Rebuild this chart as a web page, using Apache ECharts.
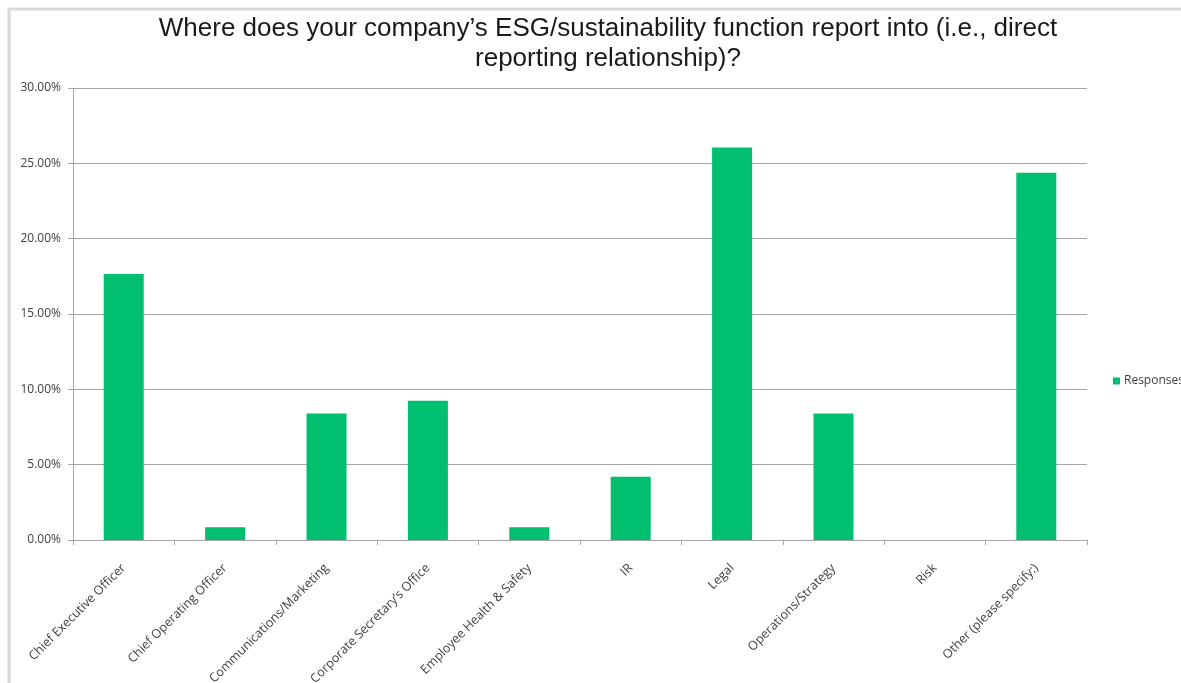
<!DOCTYPE html>
<html>
<head>
<meta charset="utf-8">
<script src="https://cdn.jsdelivr.net/npm/echarts@6/dist/echarts.min.js"></script>
<style>
  html, body { margin: 0; padding: 0; background: #ffffff; }
  #chart { width: 1181px; height: 683px; }
</style>
</head>
<body>
<div id="chart"></div>
<script>
// Survey: reporting line of the ESG/sustainability function (share of responses)
const categories = [
  'Chief Executive Officer',
  'Chief Operating Officer',
  'Communications/Marketing',
  'Corporate Secretary\u2019s Office',
  'Employee Health & Safety',
  'IR',
  'Legal',
  'Operations/Strategy',
  'Risk',
  'Other (please specify:)'
];
const responses = [17.65, 0.84, 8.40, 9.24, 0.84, 4.20, 26.05, 8.40, 0, 24.37];
const seriesName = 'Responses';
const titleText = 'Where does your company\u2019s ESG/sustainability function report into (i.e., direct\nreporting relationship)?';

const chart = echarts.init(document.getElementById('chart'));
chart.setOption({
  animation: false,
  backgroundColor: '#ffffff',
  title: {
    text: titleText,
    left: 603,
    textAlign: 'center',
    top: 9,
    textStyle: {
      fontFamily: 'Liberation Sans, Arial, sans-serif',
      fontSize: 26,
      fontWeight: 'normal',
      color: '#1a1a1a',
      lineHeight: 30
    }
  },
  legend: {
    data: [seriesName],
    left: 1108,
    top: 370,
    itemWidth: 7,
    itemHeight: 7,
    itemGap: 4,
    icon: 'rect',
    textStyle: {
      fontFamily: 'Open Sans, sans-serif',
      fontSize: 12,
      color: '#404040',
      padding: [0, 0, 0, -1]
    }
  },
  grid: { left: 73, right: 94, top: 88, bottom: 143, outerBoundsMode: 'none', containLabel: false },
  xAxis: {
    type: 'category',
    data: categories,
    axisLine: { lineStyle: { color: '#a6a6a6', width: 1 } },
    axisTick: { show: true, alignWithLabel: false, length: 5, lineStyle: { color: '#a6a6a6' } },
    axisLabel: {
      rotate: 45,
      interval: 0,
      margin: 26,
      fontFamily: 'Open Sans, sans-serif',
      fontSize: 12.5,
      color: '#404040'
    }
  },
  yAxis: {
    type: 'value',
    min: 0,
    max: 30,
    interval: 5,
    axisLine: { show: true, lineStyle: { color: '#a6a6a6', width: 1 } },
    axisTick: { show: true, length: 5, lineStyle: { color: '#a6a6a6' } },
    splitLine: { lineStyle: { color: '#a6a6a6', width: 1 } },
    axisLabel: {
      margin: 12,
      formatter: v => v.toFixed(2) + '%',
      fontFamily: 'Open Sans, sans-serif',
      fontSize: 12,
      color: '#404040'
    }
  },
  series: [{
    name: seriesName,
    type: 'bar',
    data: responses,
    barWidth: 40,
    itemStyle: { color: '#00bf6f' }
  }],
  graphic: [{
    type: 'rect',
    shape: { x: 9, y: 9, width: 1200, height: 700 },
    style: { fill: 'none', stroke: '#d9d9d9', lineWidth: 3 },
    silent: true,
    z: -1
  }]
});
</script>
</body>
</html>
